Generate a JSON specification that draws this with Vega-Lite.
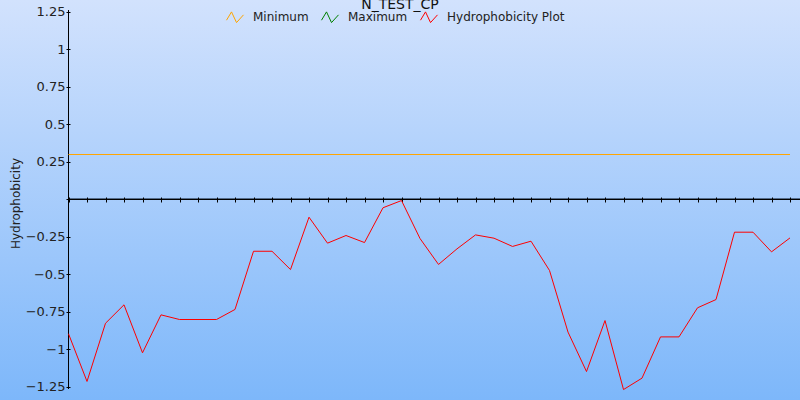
{
  "$schema": "https://vega.github.io/schema/vega-lite/v6.json",
  "width": 800,
  "height": 400,
  "autosize": {"type": "none"},
  "padding": 0,
  "background": "#a8ccfc",
  "config": {
    "font": "DejaVu Sans",
    "view": {
      "stroke": null,
      "fill": {"gradient": "linear", "x1": 0, "y1": 0, "x2": 0, "y2": 1,
        "stops": [{"offset": 0, "color": "#d2e2fd"}, {"offset": 1, "color": "#7db7fa"}]}
    }
  },
  "title": {"text": "N_TEST_CP", "anchor": "middle", "frame": "group", "offset": -23, "baseline": "alphabetic", "fontSize": 14, "fontWeight": "normal", "color": "#111"},
  "resolve": {"axis": {"x": "independent", "y": "independent"}},
  "data": {"values": [
    {"series": "Minimum", "position": 0, "value": 0.3},
    {"series": "Minimum", "position": 39, "value": 0.3},
    {"series": "Hydrophobicity Plot", "position": 0, "value": -0.895},
    {"series": "Hydrophobicity Plot", "position": 1, "value": -1.213},
    {"series": "Hydrophobicity Plot", "position": 2, "value": -0.825},
    {"series": "Hydrophobicity Plot", "position": 3, "value": -0.702},
    {"series": "Hydrophobicity Plot", "position": 4, "value": -1.022},
    {"series": "Hydrophobicity Plot", "position": 5, "value": -0.769},
    {"series": "Hydrophobicity Plot", "position": 6, "value": -0.8},
    {"series": "Hydrophobicity Plot", "position": 7, "value": -0.8},
    {"series": "Hydrophobicity Plot", "position": 8, "value": -0.8},
    {"series": "Hydrophobicity Plot", "position": 9, "value": -0.733},
    {"series": "Hydrophobicity Plot", "position": 10, "value": -0.345},
    {"series": "Hydrophobicity Plot", "position": 11, "value": -0.345},
    {"series": "Hydrophobicity Plot", "position": 12, "value": -0.467},
    {"series": "Hydrophobicity Plot", "position": 13, "value": -0.118},
    {"series": "Hydrophobicity Plot", "position": 14, "value": -0.291},
    {"series": "Hydrophobicity Plot", "position": 15, "value": -0.24},
    {"series": "Hydrophobicity Plot", "position": 16, "value": -0.287},
    {"series": "Hydrophobicity Plot", "position": 17, "value": -0.055},
    {"series": "Hydrophobicity Plot", "position": 18, "value": -0.007},
    {"series": "Hydrophobicity Plot", "position": 19, "value": -0.26},
    {"series": "Hydrophobicity Plot", "position": 20, "value": -0.433},
    {"series": "Hydrophobicity Plot", "position": 21, "value": -0.329},
    {"series": "Hydrophobicity Plot", "position": 22, "value": -0.236},
    {"series": "Hydrophobicity Plot", "position": 23, "value": -0.258},
    {"series": "Hydrophobicity Plot", "position": 24, "value": -0.313},
    {"series": "Hydrophobicity Plot", "position": 25, "value": -0.278},
    {"series": "Hydrophobicity Plot", "position": 26, "value": -0.473},
    {"series": "Hydrophobicity Plot", "position": 27, "value": -0.884},
    {"series": "Hydrophobicity Plot", "position": 28, "value": -1.147},
    {"series": "Hydrophobicity Plot", "position": 29, "value": -0.807},
    {"series": "Hydrophobicity Plot", "position": 30, "value": -1.267},
    {"series": "Hydrophobicity Plot", "position": 31, "value": -1.191},
    {"series": "Hydrophobicity Plot", "position": 32, "value": -0.916},
    {"series": "Hydrophobicity Plot", "position": 33, "value": -0.916},
    {"series": "Hydrophobicity Plot", "position": 34, "value": -0.722},
    {"series": "Hydrophobicity Plot", "position": 35, "value": -0.667},
    {"series": "Hydrophobicity Plot", "position": 36, "value": -0.218},
    {"series": "Hydrophobicity Plot", "position": 37, "value": -0.218},
    {"series": "Hydrophobicity Plot", "position": 38, "value": -0.349},
    {"series": "Hydrophobicity Plot", "position": 39, "value": -0.256}
  ]},
  "layer": [
    {
      "mark": {"type": "rule", "color": "black", "strokeWidth": 1},
      "encoding": {
        "x": {"datum": 0, "type": "quantitative", "axis": null},
        "x2": {"datum": 39.6},
        "y": {"datum": 0, "type": "quantitative", "axis": null}
      }
    },
    {
      "mark": {"type": "rule", "color": "black", "strokeWidth": 1},
      "encoding": {
        "x": {"datum": 0, "type": "quantitative", "axis": null},
        "y": {"datum": -1.262, "type": "quantitative", "axis": null},
        "y2": {"datum": 1.262}
      }
    },
    {
      "mark": {"type": "line", "strokeWidth": 1},
      "encoding": {
        "x": {
          "field": "position", "type": "quantitative",
          "scale": {"domain": [-3.7027, 39.5405], "nice": false, "zero": false},
          "axis": {
            "title": null, "orient": "bottom", "offset": -203, "domain": false, "labels": false, "grid": false,
            "values": [0,1,2,3,4,5,6,7,8,9,10,11,12,13,14,15,16,17,18,19,20,21,22,23,24,25,26,27,28,29,30,31,32,33,34,35,36,37,38,39],
            "tickSize": 5, "tickColor": "black", "tickWidth": 1
          }
        },
        "y": {
          "field": "value", "type": "quantitative",
          "scale": {"domain": [-1.33667, 1.33], "nice": false, "zero": false},
          "axis": {
            "title": "Hydrophobicity", "orient": "left", "offset": -70, "domain": false, "grid": false,
            "values": [-1.25, -1, -0.75, -0.5, -0.25, 0, 0.25, 0.5, 0.75, 1, 1.25],
            "labelExpr": "datum.value == 0 ? '' : format(datum.value, '~g')",
            "labelOverlap": false, "labelBound": false, "labelFlush": false,
            "tickSize": 4, "tickColor": "black", "tickWidth": 1,
            "labelFontSize": 13, "labelColor": "#222", "labelPadding": 1,
            "titleFontSize": 12, "titleFontWeight": "normal", "titleColor": "#222",
            "titleX": -55, "titleY": 203, "titleBaseline": "middle", "titleAngle": 270
          }
        },
        "color": {
          "field": "series", "type": "nominal",
          "scale": {"domain": ["Minimum", "Maximum", "Hydrophobicity Plot"], "range": ["#ffa500", "#008000", "#ff0000"]},
          "legend": {
            "orient": "none", "legendX": 226, "legendY": 8, "direction": "horizontal", "title": null,
            "symbolType": "M-1,0.33L-0.41,-0.65L0.18,0.61L1,-0.3", "symbolSize": 289, "symbolStrokeWidth": 1,
            "labelFontSize": 12, "labelOffset": 9, "columnPadding": 10, "labelColor": "#222", "padding": 0
          }
        }
      }
    }
  ]
}
